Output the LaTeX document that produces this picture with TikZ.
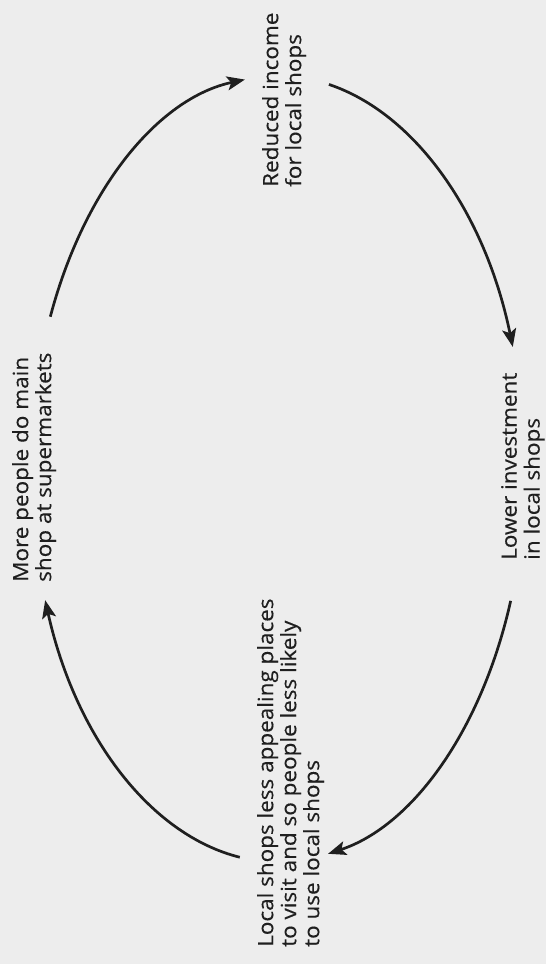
\documentclass[tikz,border=0pt]{standalone}
\usepackage{fontspec}
\setmainfont[FakeStretch=1.07,FakeBold=0.3]{Open Sans}
\usetikzlibrary{arrows.meta,calc}
\begin{document}
\begin{tikzpicture}[x=1pt,y=1pt,
  lbl/.style={rotate=90, anchor=north west, inner sep=0pt, align=left,
    text=black!88, font=\fontsize{21}{23}\selectfont},
  flow/.style={line width=2.7pt, draw=black!88,
    -{Stealth[length=18pt,width=14pt,inset=4pt]}},
  ellarc/.style n args={2}{to path={
    .. controls ($(\tikztostart)+({-(4/3)*tan((#2-#1)/4)*247*sin(#1)},{(4/3)*tan((#2-#1)/4)*393*cos(#1)})$)
    and ($(\tikztotarget)+({(4/3)*tan((#2-#1)/4)*247*sin(#2)},{-(4/3)*tan((#2-#1)/4)*393*cos(#2)})$)
    .. (\tikztotarget)}}
]
\fill[black!7] (0,0) rectangle (546,964);
\useasboundingbox (0,0) rectangle (546,964);

\node[lbl] (income) at (262,777) {Reduced income\\for local shops};
\node[lbl] (invest) at (501,404) {Lower investment\\in local shops};
\node[lbl] (super) at (12,382) {More people do main\\shop at supermarkets};
\node[lbl] (appeal) at (257,17) {Local shops less appealing places\\to visit and so people less likely\\to use local shops};

\coordinate (c) at (278,495);
\coordinate (p1) at ($(c)+(157.2:247 and 393)$);
\coordinate (t1) at ($(c)+(97.7:247 and 393)$);
\coordinate (p2) at ($(c)+(78.1:247 and 393)$);
\coordinate (t2) at ($(c)+(18.1:247 and 393)$);
\coordinate (p3) at ($(c)+(-19.6:247 and 393)$);
\coordinate (t3) at ($(c)+(-78.3:247 and 393)$);
\coordinate (p4) at ($(c)+(-98.9:247 and 393)$);
\coordinate (t4) at ($(c)+(-160.5:247 and 393)$);

\draw[flow] (p1) to[ellarc={157.2}{97.7}] (t1);
\draw[flow] (p2) to[ellarc={78.1}{18.1}] (t2);
\draw[flow] (p3) to[ellarc={-19.6}{-78.3}] (t3);
\draw[flow] (p4) to[ellarc={-98.9}{-160.5}] (t4);
\end{tikzpicture}
\end{document}
